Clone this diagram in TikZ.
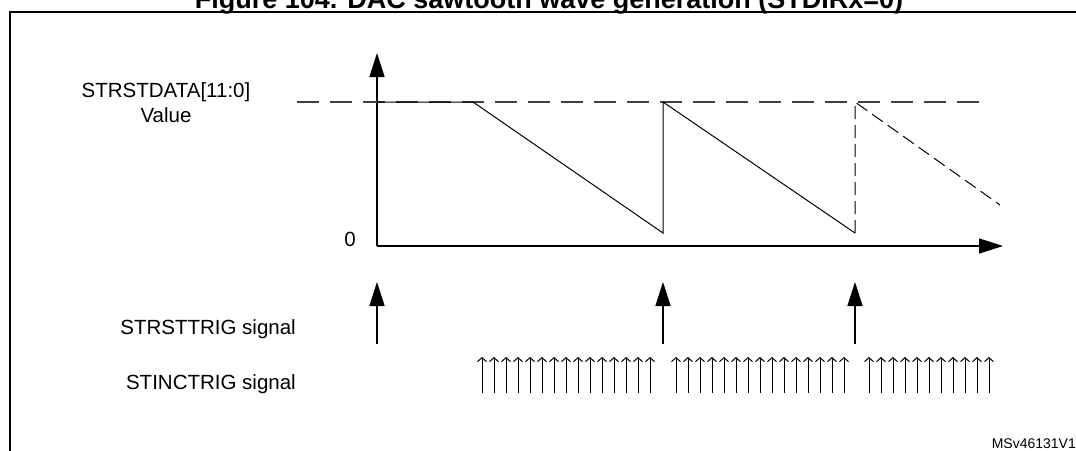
\documentclass[tikz,border=0pt]{standalone}
\usepackage{fontspec}
\setmainfont{Liberation Sans}
\usetikzlibrary{arrows.meta}
\tikzset{
  axisline/.style={line width=1.5pt, -{Triangle[length=24pt,width=15pt]}},
  trigarrow/.style={line width=1.5pt, -{Triangle[length=24pt,width=15pt]}},
  tickarrow/.style={line width=1pt, -{Straight Barb[length=4pt,width=9pt]}},
  wave/.style={line width=1pt},
  refline/.style={line width=1.5pt, dash pattern=on 22pt off 11pt, black!75},
  nextwave/.style={line width=1pt, dash pattern=on 13pt off 6pt},
  lbl/.style={font=\fontsize{20.5}{25}\selectfont, inner sep=0pt}
}
\begin{document}
\begin{tikzpicture}[x=1pt, y=-1pt]
\clip (0,0) rectangle (1076,450);
\useasboundingbox (0,0) rectangle (1076,450);
% title and frame
\node[font=\fontsize{27}{30}\selectfont\bfseries, anchor=base, inner sep=0pt] (title) at (549,8) {Figure 104. DAC sawtooth wave generation (STDIRx=0)};
\draw[line width=1.5pt] (10,460) -- (10,12) -- (1090,12);
% axes
\coordinate (org) at (377,246);
\coordinate (ytip) at (377,53);
\coordinate (xtip) at (1003,246);
\draw[axisline] (org) -- (ytip);
\draw[axisline] (org) -- (xtip);
% STRSTDATA level
\coordinate (dstart) at (297,102);
\coordinate (dend) at (990,102);
\draw[refline] (dstart) -- (dend);
% sawtooth
\coordinate (top0) at (377,102);
\coordinate (flat) at (473,102);
\coordinate (low1) at (663,233);
\coordinate (top1) at (663,102);
\coordinate (low2) at (855,233);
\coordinate (top2) at (855,102);
\coordinate (tail) at (1000,205);
\draw[wave] (top0) -- (flat) -- (low1) -- (top1) -- (low2);
\draw[nextwave] (low2) -- (top2) -- (tail);
% labels
\node[lbl, align=center, anchor=north] (datalbl) at (166,82) {STRSTDATA[11:0]\\Value};
\node[lbl, anchor=base east] (zero) at (356,246) {0};
\node[lbl, anchor=base east] (rstlbl) at (296,334) {STRSTTRIG signal};
\node[lbl, anchor=base east] (inclbl) at (296,389) {STINCTRIG signal};
\node[font=\fontsize{14}{16}\selectfont, anchor=base east, inner sep=0pt] (ref) at (1076,448) {MSv46131V1};
% STRSTTRIG pulses
\foreach \x in {377,663,855}
  \draw[trigarrow] (\x,344) -- (\x,282);
% STINCTRIG pulses
\foreach \s/\n in {482/14, 676/14, 869/10}
  \foreach \k in {0,...,\n}
    \draw[tickarrow] ({\s+12*\k},393) -- ++(0,-36);
\end{tikzpicture}
\end{document}
